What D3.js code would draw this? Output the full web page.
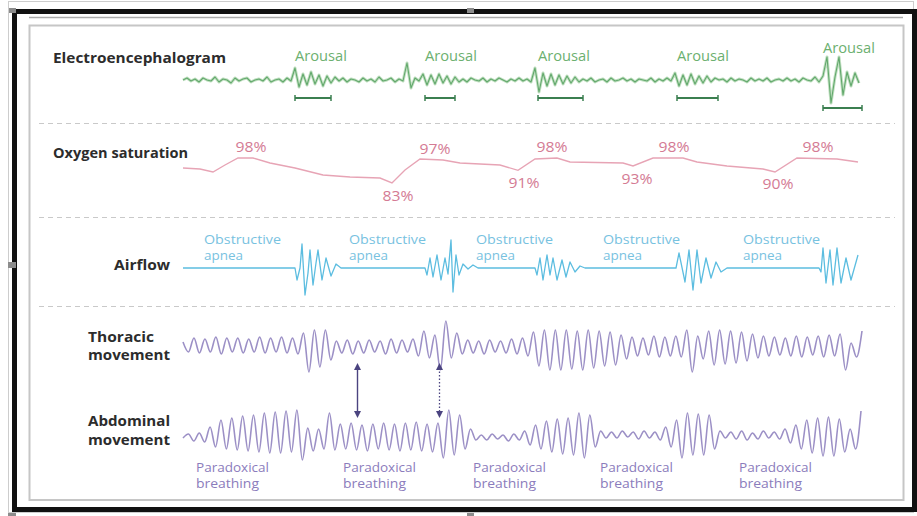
<!DOCTYPE html>
<html><head><meta charset="utf-8">
<script src="https://cdn.jsdelivr.net/npm/d3@7"></script>
<style>
html,body{margin:0;padding:0;background:#fff;}
svg{display:block;font-family:'Open Sans',sans-serif;}
</style></head><body>
<svg id="chart" width="917" height="516"></svg>
<script>
// ---------------- DATA ----------------
const rowLabels = ["Electroencephalogram", "Oxygen saturation", "Airflow", "Thoracic\nmovement", "Abdominal\nmovement"];

// EEG trace (deflection, + = up), evenly sampled over the record
const eegValues = [
  0,2,-1,1,-2,2,0,-1,3,-2,1,0,-3,2,-1,1,2,-2,0,1,-1,3,-2,0,1,-2,2,-1,
  12,-7,6,-5,8,-4,5,-6,4,-3,3,
  -1,2,-2,1,0,-2,2,-1,1,-2,3,-1,0,2,-2,1,-1,
  17,-8,
  2,-1,
  6,-5,5,-4,6,-3,4,-4,3,-2,
  1,-2,2,0,-1,2,-2,1,-1,2,0,-2,1,-1,2,-1,1,-2,
  12,-12,7,-6,6,-5,5,-4,4,-3,3,-2,
  1,-1,2,-2,0,1,-2,2,-1,0,2,-1,1,-2,1,0,-1,2,-2,1,-1,2,-1,
  7,-6,5,-5,6,-4,4,-3,4,-2,2,
  0,1,-2,2,-1,1,0,-2,2,-1,1,-1,2,-2,0,1,-1,2,-1,1,-2,2,0,-1,3,-2,
  4,23,-23,3,23,-15,8,-6,7,-3
];
const arousalLabels = ["Arousal", "Arousal", "Arousal", "Arousal", "Arousal"];
const arousalStart = [112, 242, 355, 494, 640];
const arousalEnd   = [148, 272, 400, 535, 679];

// Oxygen saturation (%), time in seconds
const o2Time   = [0, 17, 30, 42, 55, 70, 87, 112, 140, 167, 197, 209, 222, 237, 260, 277, 317, 335, 352, 374, 387, 440, 450, 470, 500, 514, 544, 580, 592, 614, 654, 675];
const o2Values = [92.0, 91.4, 89.6, 93.8, 98, 98, 95, 92, 87.8, 86.6, 86, 83, 90.8, 97.4, 96.8, 95, 93.8, 90.6, 97.4, 98, 95.6, 95, 93.2, 98, 98, 95.6, 93.2, 91.4, 89.6, 98, 97.4, 95.6];
const o2Labels     = ["98%", "83%", "97%", "91%", "98%", "93%", "98%", "90%", "98%"];
const o2LabelTime  = [68, 215, 252, 341, 369, 454, 491, 595, 635];

// Airflow (deflection), time in seconds
const airTime   = [0,112,114,117,119,122,125,127,130,133,135,139,143,148,153,158,
                   242,244,247,250,254,258,262,265,268,270,273,276,280,285,290,295,
                   352,354,357,360,364,367,370,374,379,383,387,392,397,402,
                   493,496,502,506,510,514,518,523,528,533,538,544,
                   636,638,640,643,647,650,654,658,663,668,675];
const airValues = [0,0,-12,0,24,-27,-5,18,-17,5,18,-12,10,-8,4,0,
                   0,-7,10,-9,13,-12,10,-6,28,-24,13,-7,4,-1,3,0,
                   0,-7,10,-12,13,-7,10,-12,8,-9,6,-4,2,0,
                   0,15,-14,18,-22,18,-15,10,-10,6,-4,0,
                   0,-4,20,-15,18,-17,20,-15,10,-12,13];
const apneaLabels = ["Obstructive\napnea", "Obstructive\napnea", "Obstructive\napnea", "Obstructive\napnea", "Obstructive\napnea"];
const apneaTime   = [21, 166, 293, 420, 560];

// Thoracic effort: successive peaks / troughs
const thoracicValues = [
  8,-2,12,-3,11,-2,13,-4,12,-2,12,-3,11,-2,13,-3,12,-2,13,-3,12,-4,
  17,-22,20,-17,20,-10,
  9,-3,10,-4,9,-3,10,-2,9,-4,11,-3,10,-2,11,-6,
  19,-8,15,-20,29,-8,17,-4,
  10,-3,9,-4,10,-2,9,-3,11,-4,12,-6,
  18,-16,20,-20,20,-20,20,-19,19,-20,20,-18,19,-16,18,-15,15,-9,
  13,-6,12,-5,14,-7,13,-6,14,-7,20,
  -22,14,-9,19,-15,20,-14,19,-13,18,-11,16,-8,14,
  -6,13,-5,12,-6,14,-7,13,-5,14,-7,15,-6,
  16,-20,7,-7,19
];
// Abdominal effort: successive peaks / troughs
const abdominalValues = [
  -1,3,-4,4,-5,10,
  -10,17,-12,19,-13,21,-14,22,-15,24,-16,25,-16,26,-15,27,
  -23,9,-14,8,-12,24,
  -13,13,-12,14,-13,12,-14,13,-12,14,-13,13,-14,14,-13,15,-14,13,-15,14,
  -21,27,-18,22,-12,8,
  -3,2,-3,3,-2,2,-4,3,-3,6,
  -8,12,-12,16,-15,18,-17,19,-18,
  24,-21,22,-10,6,
  -1,5,-1,6,0,5,-2,6,-1,5,-3,
  10,-10,17,-21,24,
  -18,23,-18,22,-12,6,
  -1,5,-2,6,-3,4,-2,6,-1,5,-2,8,
  -6,12,-12,17,-16,19,-19,20,-19,18,-15,
  8,-12,26
];
const paradoxLabels = ["Paradoxical\nbreathing", "Paradoxical\nbreathing", "Paradoxical\nbreathing", "Paradoxical\nbreathing", "Paradoxical\nbreathing"];
const paradoxTime   = [13, 160, 290, 417, 556];
const arrowTime  = [174, 256];
const arrowStyle = ["solid", "dotted"];

// ---------------- LAYOUT / STYLE ----------------
const C = {
  text: "#2c2c2c",
  eeg: "#62a86c", eegHalo: "#c2e0c2", arousal: "#6cb070", bar: "#3b7f50",
  o2: "#e7a4b5", o2Text: "#d47b94",
  air: "#5cbde0", airText: "#78c2df",
  breath: "#9c90c6", breathText: "#8b7cbc", arrow: "#4b4480",
  sep: "#c9c9c9"
};
const svg = d3.select("#chart");
svg.append("rect").attr("width", 917).attr("height", 516).attr("fill", "#fff");

// frame decorations
svg.append("rect").attr("x", 8.5).attr("y", 1.5).attr("width", 905).attr("height", 511)
  .attr("fill", "none").attr("stroke", "#9a9a9a").attr("stroke-dasharray", "1,1");
svg.append("rect").attr("x", 14.5).attr("y", 11.5).attr("width", 900).attr("height", 498)
  .attr("fill", "#fff").attr("stroke", "#111").attr("stroke-width", 5);
svg.append("line").attr("x1", 29).attr("x2", 903).attr("y1", 17.5).attr("y2", 17.5)
  .attr("stroke", "#aaa").attr("stroke-width", 1.5);
svg.append("rect").attr("x", 29.5).attr("y", 25.5).attr("width", 874).attr("height", 474.5)
  .attr("fill", "#fff").attr("stroke", "#c6c6c6").attr("stroke-width", 2);
[[9, 8, 7, 5], [467, 8, 7, 5], [8, 262, 8, 6], [8, 513, 8, 3], [467, 513, 7, 3]].forEach(h => {
  svg.append("rect").attr("x", h[0]).attr("y", h[1]).attr("width", h[2]).attr("height", h[3]).attr("fill", "#8c8c8c");
});

// separators
[123.5, 217.5, 306.5].forEach(y => {
  svg.append("line").attr("x1", 39).attr("x2", 895).attr("y1", y).attr("y2", y)
    .attr("stroke", C.sep).attr("stroke-width", 1.2).attr("stroke-dasharray", "5,4");
});

// text helper
function label(str, x, y, o) {
  const lines = str.split("\n");
  const t = svg.append("text").attr("x", x).attr("y", y)
    .attr("fill", o.fill).attr("font-size", o.size).attr("font-weight", o.weight || 400)
    .attr("text-anchor", o.anchor || "start");
  lines.forEach((ln, i) => {
    const ts = t.append("tspan").attr("x", x).attr("y", y + i * (o.lh || 15)).text(ln);
    if (o.lens && o.lens[i]) ts.attr("textLength", o.lens[i]).attr("lengthAdjust", "spacingAndGlyphs");
  });
  return t;
}

// row labels
const titleStyle = {fill: C.text, size: 14.5, weight: 700};
label(rowLabels[0], 53, 63, {...titleStyle, lens: [173]});
label(rowLabels[1], 53, 158, {...titleStyle, lens: [135]});
label(rowLabels[2], 170, 270, {...titleStyle, anchor: "end", lens: [56]});
label(rowLabels[3], 88, 342, {...titleStyle, lh: 18, lens: [66, 82]});
label(rowLabels[4], 88, 426, {...titleStyle, lh: 19, lens: [82, 82]});

// shared time scale
const xT = d3.scaleLinear().domain([0, 680]).range([183, 863]);

// ---- EEG ----
const xE = d3.scaleLinear().domain([0, eegValues.length - 1]).range([183, 859]);
const yE = d3.scaleLinear().domain([-25, 25]).range([105, 55]);
const eegLine = d3.line().x((d, i) => xE(i)).y(d => yE(d));
svg.append("path").datum(eegValues).attr("d", eegLine).attr("fill", "none")
  .attr("stroke", C.eegHalo).attr("stroke-width", 3).attr("stroke-linejoin", "round");
svg.append("path").datum(eegValues).attr("d", eegLine).attr("fill", "none")
  .attr("stroke", C.eeg).attr("stroke-width", 1.1).attr("stroke-linejoin", "round");
arousalLabels.forEach((s, i) => {
  const last = i === arousalLabels.length - 1;
  const by = last ? 108 : 98;
  const x0 = xT(arousalStart[i]), x1 = xT(arousalEnd[i]);
  label(s, x0, last ? 53 : 61, {fill: C.arousal, size: 14, lens: [52]});
  svg.append("line").attr("x1", x0).attr("x2", x1).attr("y1", by).attr("y2", by)
    .attr("stroke", C.bar).attr("stroke-width", 2);
  [x0, x1].forEach(x => svg.append("line").attr("x1", x).attr("x2", x).attr("y1", by - 3).attr("y2", by + 3)
    .attr("stroke", C.bar).attr("stroke-width", 1.5));
});

// ---- Oxygen saturation ----
const yO = d3.scaleLinear().domain([80, 100]).range([188, 154.667]);
svg.append("path").datum(o2Values).attr("fill", "none").attr("stroke", C.o2).attr("stroke-width", 1.4)
  .attr("d", d3.line().x((d, i) => xT(o2Time[i])).y(d => yO(d)));
o2Labels.forEach((s, i) => {
  const v = parseFloat(s);
  const low = v < 97;
  label(s, xT(o2LabelTime[i]), low ? yO(v) + 18 : yO(v) - 6, {fill: C.o2Text, size: 14, anchor: "middle", lens: [31]});
});

// ---- Airflow ----
const yA = d3.scaleLinear().domain([-30, 30]).range([298, 238]);
svg.append("path").datum(airValues).attr("fill", "none").attr("stroke", C.air).attr("stroke-width", 1.3)
  .attr("stroke-linejoin", "round")
  .attr("d", d3.line().x((d, i) => xT(airTime[i])).y(d => yA(d)));
apneaLabels.forEach((s, i) => {
  label(s, xT(apneaTime[i]), 244, {fill: C.airText, size: 11.8, lh: 16, lens: [77, 39]});
});

// ---- Thoracic ----
const xTh = d3.scaleLinear().domain([0, thoracicValues.length - 1]).range([183, 862]);
const yTh = d3.scaleLinear().domain([-25, 30]).range([375, 320]);
svg.append("path").datum(thoracicValues).attr("fill", "none").attr("stroke", C.breath).attr("stroke-width", 1.6)
  .attr("d", d3.line().curve(d3.curveMonotoneX).x((d, i) => xTh(i)).y(d => yTh(d)));

// ---- Abdominal ----
const xAb = d3.scaleLinear().domain([0, abdominalValues.length - 1]).range([183, 861]);
const yAb = d3.scaleLinear().domain([-25, 30]).range([462, 407]);
svg.append("path").datum(abdominalValues).attr("fill", "none").attr("stroke", C.breath).attr("stroke-width", 1.6)
  .attr("d", d3.line().curve(d3.curveMonotoneX).x((d, i) => xAb(i)).y(d => yAb(d)));
paradoxLabels.forEach((s, i) => {
  label(s, xT(paradoxTime[i]), 472, {fill: C.breathText, size: 11.8, lh: 16, lens: [73, 63]});
});

// ---- arrows ----
arrowTime.forEach((t, i) => {
  const x = Math.round(xT(t)) + 0.5;
  svg.append("line").attr("x1", x).attr("x2", x).attr("y1", 368).attr("y2", 413)
    .attr("stroke", C.arrow).attr("stroke-width", arrowStyle[i] === "solid" ? 1.4 : 1.3)
    .attr("stroke-dasharray", arrowStyle[i] === "solid" ? null : "1.5,2");
  svg.append("path").attr("d", `M${x},363L${x - 3.5},370L${x + 3.5},370Z`).attr("fill", C.arrow);
  svg.append("path").attr("d", `M${x},418L${x - 3.5},411L${x + 3.5},411Z`).attr("fill", C.arrow);
});
</script>
</body></html>
